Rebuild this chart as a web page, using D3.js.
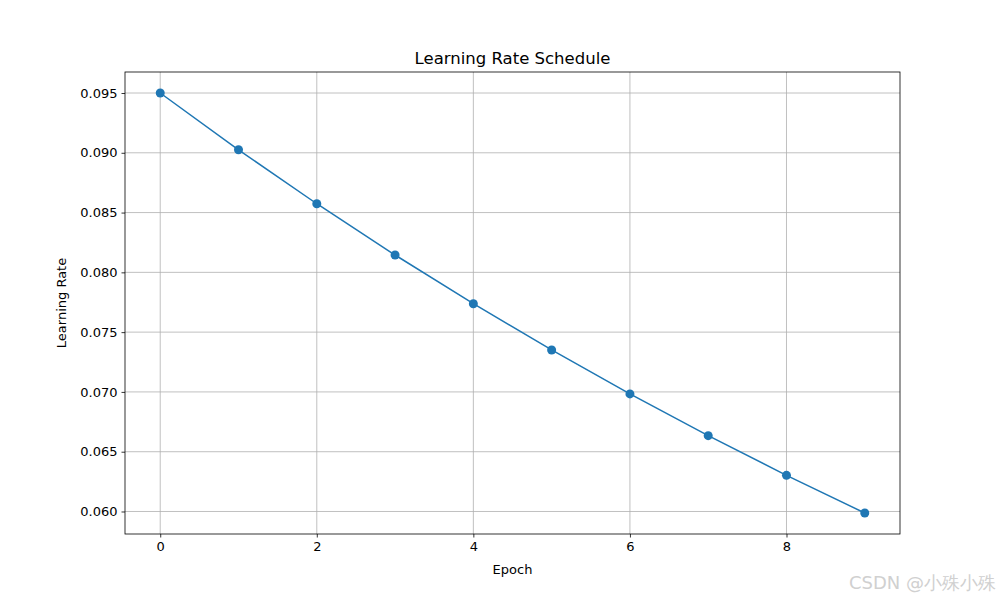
<!DOCTYPE html>
<html><head><meta charset="utf-8">
<script src="https://cdn.jsdelivr.net/npm/d3@7"></script>
<style>body{margin:0;background:#fff}svg{display:block}text{font-family:"DejaVu Sans",sans-serif}</style>
</head><body>
<svg id="c" width="1000" height="600"></svg>
<script>
const epochs = [0,1,2,3,4,5,6,7,8,9];
const learningRates = [0.095, 0.09025, 0.0857375, 0.081450625, 0.07737809, 0.07350919, 0.06983373, 0.06634204, 0.06302494, 0.05987369];
const xTicks = [0,2,4,6,8];
const yTicks = [0.060,0.065,0.070,0.075,0.080,0.085,0.090,0.095];

const svg = d3.select("#c");
const L=125,R=900,T=72,B=534;
const xmin=d3.min(epochs), xmax=d3.max(epochs), xm=(xmax-xmin)*0.05;
const ymin=d3.min(learningRates), ymax=d3.max(learningRates), ym=(ymax-ymin)*0.05;
const x=d3.scaleLinear().domain([xmin-xm,xmax+xm]).range([L,R]);
const y=d3.scaleLinear().domain([ymin-ym,ymax+ym]).range([B,T]);
const color="#1f77b4";

// grid
const g=svg.append("g");
g.selectAll(".gx").data(xTicks).join("line").attr("x1",d=>x(d)).attr("x2",d=>x(d)).attr("y1",T).attr("y2",B).attr("stroke","#b0b0b0").attr("stroke-width",0.8);
g.selectAll(".gy").data(yTicks).join("line").attr("y1",d=>y(d)).attr("y2",d=>y(d)).attr("x1",L).attr("x2",R).attr("stroke","#b0b0b0").attr("stroke-width",0.8);

// axes
const xa=svg.append("g").attr("transform",`translate(0,${B})`).call(d3.axisBottom(x).tickValues(xTicks).tickFormat(d3.format("d")).tickSizeOuter(0).tickSize(3.5).tickPadding(4));
const ya=svg.append("g").attr("transform",`translate(${L},0)`).call(d3.axisLeft(y).tickValues(yTicks).tickFormat(d3.format(".3f")).tickSizeOuter(0).tickSize(3.5).tickPadding(4));
[xa,ya].forEach(a=>{a.select(".domain").remove();a.selectAll("text").attr("font-size",13).attr("fill","#000").attr("font-family","DejaVu Sans");a.selectAll("line").attr("stroke","#000").attr("stroke-width",0.8);});

// line
svg.append("path").datum(epochs.map((e,i)=>[e,learningRates[i]])).attr("d",d3.line().x(d=>x(d[0])).y(d=>y(d[1]))).attr("fill","none").attr("stroke",color).attr("stroke-width",1.5);
svg.selectAll(".pt").data(epochs).join("circle").attr("cx",d=>x(d)).attr("cy",(d,i)=>y(learningRates[i])).attr("r",4.5).attr("fill",color);

// frame
svg.append("rect").attr("x",L).attr("y",T).attr("width",R-L).attr("height",B-T).attr("fill","none").attr("stroke","#000").attr("stroke-width",0.8);

// labels
svg.append("text").attr("x",(L+R)/2).attr("y",T-8).attr("text-anchor","middle").attr("font-size",16.5).text("Learning Rate Schedule");
svg.append("text").attr("x",(L+R)/2).attr("y",574).attr("text-anchor","middle").attr("font-size",13).text("Epoch");
svg.append("text").attr("transform",`translate(66,${(T+B)/2}) rotate(-90)`).attr("text-anchor","middle").attr("font-size",13).text("Learning Rate");

// watermark
svg.append("text").attr("x",996).attr("y",589).attr("text-anchor","end").attr("font-size",18).attr("fill","#d0d0d0").attr("font-family","'Noto Sans CJK SC',sans-serif").text("CSDN @小殊小殊");
</script>
</body></html>
